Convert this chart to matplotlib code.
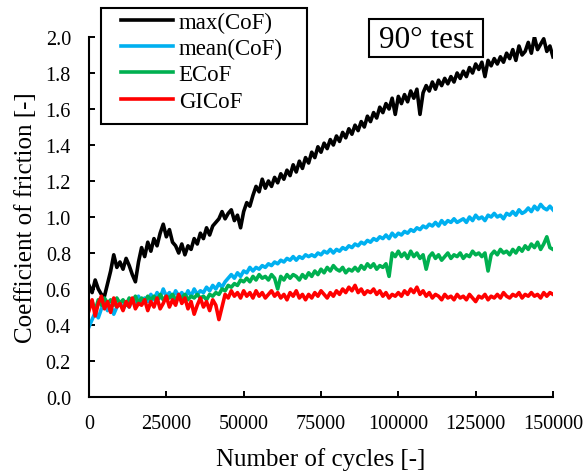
import numpy as np
import matplotlib
matplotlib.use("Agg")
import matplotlib.pyplot as plt
from matplotlib.patches import Rectangle

plt.rcParams['font.family'] = ['Liberation Serif', 'DejaVu Serif']

# cycle count, one sample every 1000 cycles
cycles = np.arange(0, 150001, 1000)

max_cof = [
    0.62, 0.58, 0.65, 0.60, 0.57, 0.56, 0.63, 0.70, 0.79, 0.72, 0.75,
    0.71, 0.77, 0.73, 0.68, 0.64, 0.75, 0.83, 0.78, 0.86, 0.81,
    0.88, 0.84, 0.91, 0.96, 0.89, 0.93, 0.86, 0.84, 0.80, 0.85,
    0.79, 0.84, 0.82, 0.88, 0.85, 0.91, 0.88, 0.94, 0.90, 0.95,
    0.97, 0.99, 1.03, 0.99, 1.02, 1.04, 0.98, 1.01, 0.94, 1.03,
    1.08, 1.06, 1.12, 1.17, 1.14, 1.21, 1.16, 1.20, 1.17, 1.22,
    1.19, 1.24, 1.21, 1.26, 1.23, 1.29, 1.25, 1.31, 1.27, 1.33,
    1.30, 1.36, 1.33, 1.39, 1.36, 1.41, 1.38, 1.43, 1.40, 1.45,
    1.42, 1.47, 1.44, 1.49, 1.46, 1.51, 1.48, 1.53, 1.50, 1.56,
    1.53, 1.58, 1.55, 1.61, 1.58, 1.63, 1.60, 1.66, 1.57, 1.67,
    1.63, 1.68, 1.64, 1.70, 1.66, 1.71, 1.57, 1.69, 1.73, 1.70,
    1.75, 1.71, 1.76, 1.73, 1.77, 1.74, 1.78, 1.75, 1.80, 1.77,
    1.81, 1.78, 1.83, 1.80, 1.85, 1.82, 1.86, 1.78, 1.87, 1.84,
    1.88, 1.85, 1.89, 1.86, 1.91, 1.88, 1.93, 1.87, 1.95, 1.90,
    1.92, 1.97, 1.91, 2.00, 1.93, 1.96, 1.99, 1.92, 1.95, 1.89,
]

mean_cof = [
    0.39, 0.43, 0.47, 0.44, 0.49, 0.52, 0.48, 0.51, 0.46, 0.50, 0.53,
    0.49, 0.52, 0.50, 0.54, 0.51, 0.56, 0.52, 0.55, 0.53, 0.57,
    0.54, 0.58, 0.55, 0.60, 0.56, 0.58, 0.55, 0.59, 0.56, 0.58,
    0.55, 0.59, 0.56, 0.60, 0.57, 0.59, 0.58, 0.61, 0.59, 0.62,
    0.60, 0.63, 0.61, 0.64, 0.66, 0.68, 0.66, 0.69, 0.67, 0.70,
    0.69, 0.72, 0.70, 0.72, 0.71, 0.73, 0.72, 0.74, 0.73, 0.75,
    0.74, 0.76, 0.75, 0.77, 0.76, 0.78, 0.76, 0.78, 0.77, 0.79,
    0.78, 0.79, 0.78, 0.80, 0.79, 0.81, 0.80, 0.82, 0.80, 0.82,
    0.81, 0.83, 0.82, 0.84, 0.83, 0.85, 0.84, 0.86, 0.85, 0.87,
    0.86, 0.88, 0.87, 0.89, 0.88, 0.90, 0.88, 0.91, 0.89, 0.91,
    0.90, 0.92, 0.91, 0.93, 0.92, 0.94, 0.93, 0.95, 0.94, 0.96,
    0.95, 0.97, 0.95, 0.98, 0.96, 0.98, 0.97, 0.99, 0.97, 0.98,
    0.99, 0.97, 1.00, 0.98, 1.01, 0.99, 1.00, 0.98, 1.01, 1.00,
    1.02, 1.00, 1.01, 0.99, 1.02, 1.01, 1.03, 1.01, 1.04, 1.02,
    1.03, 1.05, 1.03, 1.06, 1.04, 1.07, 1.05, 1.04, 1.06, 1.04,
]

ecof = [
    0.50, 0.53, 0.48, 0.54, 0.51, 0.55, 0.52, 0.54, 0.51, 0.55, 0.52,
    0.54, 0.51, 0.55, 0.53, 0.56, 0.52, 0.55, 0.53, 0.56, 0.54,
    0.56, 0.53, 0.57, 0.54, 0.56, 0.55, 0.57, 0.54, 0.56, 0.55,
    0.57, 0.54, 0.56, 0.55, 0.57, 0.55, 0.56, 0.54, 0.57, 0.56,
    0.58, 0.57, 0.60, 0.59, 0.62, 0.61, 0.63, 0.62, 0.65, 0.64,
    0.66, 0.64, 0.67, 0.65, 0.68, 0.66, 0.67, 0.65, 0.68, 0.66,
    0.60, 0.67, 0.65, 0.68, 0.66, 0.68, 0.67, 0.65, 0.68, 0.66,
    0.69, 0.67, 0.70, 0.68, 0.71, 0.69, 0.72, 0.70, 0.73, 0.71,
    0.70, 0.72, 0.69, 0.71, 0.70, 0.72, 0.70, 0.73, 0.71, 0.74,
    0.72, 0.74, 0.71, 0.73, 0.72, 0.74, 0.67, 0.80, 0.78, 0.81,
    0.78, 0.80, 0.77, 0.81, 0.78, 0.80, 0.77, 0.79, 0.71, 0.78,
    0.80, 0.77, 0.79, 0.76, 0.78, 0.80, 0.77, 0.79, 0.78, 0.80,
    0.77, 0.79, 0.78, 0.81, 0.79, 0.80, 0.78, 0.80, 0.70, 0.79,
    0.81, 0.79, 0.82, 0.80, 0.81, 0.79, 0.82, 0.80, 0.83, 0.81,
    0.84, 0.82, 0.85, 0.83, 0.86, 0.82, 0.85, 0.89, 0.83, 0.82,
]

gicof = [
    0.48, 0.54, 0.45, 0.52, 0.56, 0.49, 0.53, 0.47, 0.55, 0.50, 0.52,
    0.48, 0.53, 0.50, 0.55, 0.49, 0.52, 0.51, 0.54, 0.48, 0.53,
    0.50, 0.55, 0.49, 0.52, 0.56, 0.50, 0.54, 0.51, 0.57, 0.52,
    0.55, 0.49, 0.53, 0.46, 0.51, 0.55, 0.50, 0.53, 0.48, 0.54,
    0.51, 0.43, 0.50, 0.57, 0.55, 0.59, 0.56, 0.58, 0.55, 0.59,
    0.56, 0.58, 0.55, 0.59, 0.56, 0.58, 0.55, 0.57, 0.59, 0.56,
    0.58, 0.55, 0.57, 0.54, 0.58, 0.56, 0.59, 0.55, 0.57, 0.54,
    0.57, 0.55, 0.58, 0.56, 0.59, 0.57, 0.55, 0.58, 0.56, 0.59,
    0.57, 0.60, 0.58, 0.61, 0.59, 0.62, 0.58, 0.60, 0.57, 0.59,
    0.58, 0.60, 0.57, 0.59, 0.56, 0.58, 0.55, 0.57, 0.56, 0.58,
    0.56, 0.59, 0.57, 0.60, 0.58, 0.61, 0.57, 0.59, 0.56, 0.58,
    0.55, 0.57, 0.56, 0.54, 0.57, 0.55, 0.56, 0.54, 0.57, 0.55,
    0.56, 0.54, 0.57, 0.55, 0.53, 0.56, 0.55, 0.57, 0.54, 0.56,
    0.55, 0.57, 0.55, 0.58, 0.56, 0.55, 0.57, 0.56, 0.58, 0.55,
    0.57, 0.56, 0.58, 0.56, 0.57, 0.55, 0.58, 0.56, 0.58, 0.57,
]

series = [
    ("max(CoF)", max_cof, "#000000"),
    ("mean(CoF)", mean_cof, "#00B0F0"),
    ("ECoF", ecof, "#00B050"),
    ("GICoF", gicof, "#FF0000"),
]

W, H = 587, 477
fig = plt.figure(figsize=(W / 100, H / 100), dpi=100)
ax = fig.add_axes([89 / W, 79 / H, 464 / W, 360 / H])

for name, vals, col in series:
    ax.plot(cycles, vals, color=col, linewidth=2.6, label=name)

ax.set_xlim(0, 150000)
ax.set_ylim(0, 2.0)
ax.set_xticks(np.arange(0, 150001, 25000))
ax.set_yticks(np.arange(0, 2.01, 0.2))
ax.set_yticklabels(["%.1f" % v for v in np.arange(0, 2.01, 0.2)])

for s in ["top", "right"]:
    ax.spines[s].set_visible(False)
for s in ["left", "bottom"]:
    ax.spines[s].set_linewidth(1.5)
ax.tick_params(axis="both", direction="in", length=4.5, width=1.4, labelsize=14.5)
ax.tick_params(axis="y", pad=13)
ax.tick_params(axis="x", pad=12)

ax.set_xlabel("Number of cycles [-]", fontsize=18, labelpad=10)
ax.set_ylabel("Coefficient of friction [-]", fontsize=18, labelpad=6)

# legend without its own frame; the box is drawn separately
leg = fig.legend(loc="upper left", bbox_to_anchor=(121 / W, 1 - 13 / H), fontsize=16.5,
                 frameon=False, handlelength=2.27, borderpad=0, borderaxespad=0,
                 labelspacing=0.22, handletextpad=0.25)
for ln in leg.get_lines():
    ln.set_linewidth(2.6)
fig.patches.append(Rectangle((101 / W, 1 - 125 / H), 206 / W, 116 / H,
                             transform=fig.transFigure, fill=False,
                             edgecolor="black", linewidth=1.5))

fig.patches.append(Rectangle((369 / W, 1 - 58 / H), 114 / W, 38 / H,
                             transform=fig.transFigure, facecolor="white",
                             edgecolor="black", linewidth=1.5, zorder=5))
fig.text(426 / W, 1 - 40 / H, "90° test", fontsize=22.5, ha="center", va="center", zorder=6)

fig.savefig("out.png", dpi=100)
